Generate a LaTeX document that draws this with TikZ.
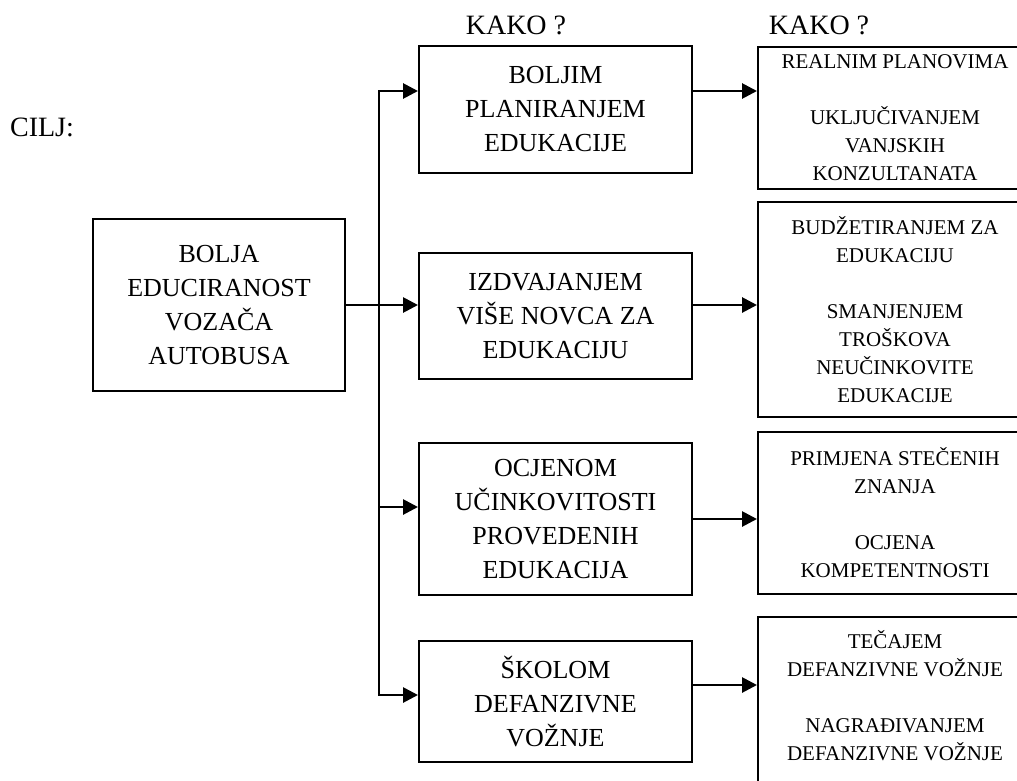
\documentclass[tikz,border=0pt]{standalone}
\usepackage{fontspec}
\setmainfont{Liberation Serif}
\usepackage{tikz}
\usetikzlibrary{positioning,arrows.meta}

\begin{document}
\begin{tikzpicture}[x=1pt, y=-1pt,
  box/.style={draw=black, line width=2pt, minimum width=273pt, align=center,
    inner sep=0pt, font=\fontsize{26}{34}\selectfont},
  subbox/.style={box, minimum width=274pt, anchor=north west,
    font=\fontsize{21}{28}\selectfont},
  lbl/.style={font=\fontsize{28}{32}\selectfont},
  arr/.style={-{Triangle[length=15pt,width=15pt]}, line width=2.8pt}
]
  \useasboundingbox (0,0) rectangle (1017,780);
  \clip (0,0) rectangle (1017,780);

  \node[lbl] (cilj) at (42,127) {CILJ:};
  \node[lbl] (kako1) at (516,25) {KAKO ?};
  \node[lbl] (kako2) at (819,25) {KAKO ?};

  \node[box, minimum width=252pt, minimum height=172pt] (goal) at (219,305)
    {BOLJA\\EDUCIRANOST\\VOZAČA\\AUTOBUSA};

  \node[box, minimum height=127pt] (plan) at (555.5,109.5)
    {BOLJIM\\PLANIRANJEM\\EDUKACIJE};
  \node[box, minimum height=126pt] (novac) at (555.5,316)
    {IZDVAJANJEM\\VIŠE NOVCA ZA\\EDUKACIJU};
  \node[box, minimum height=152pt] (ocjena) at (555.5,519)
    {OCJENOM\\UČINKOVITOSTI\\PROVEDENIH\\EDUKACIJA};
  \node[box, minimum height=121pt] (skola) at (555.5,701.5)
    {ŠKOLOM\\DEFANZIVNE\\VOŽNJE};

  \node[subbox, minimum height=142pt] (realni) at (757,46)
    {REALNIM PLANOVIMA\\[28pt]UKLJUČIVANJEM\\VANJSKIH\\KONZULTANATA};
  \node[subbox, minimum height=215pt] (budzet) at (757,201)
    {BUDŽETIRANJEM ZA\\EDUKACIJU\\[28pt]SMANJENJEM\\TROŠKOVA\\NEUČINKOVITE\\EDUKACIJE};
  \node[subbox, minimum height=162pt] (primjena) at (757,431)
    {PRIMJENA STEČENIH\\ZNANJA\\[28pt]OCJENA\\KOMPETENTNOSTI};
  \node[subbox, minimum height=200pt] (tecaj) at (757,616)
    {TEČAJEM\\DEFANZIVNE VOŽNJE\\[28pt]NAGRAĐIVANJEM\\DEFANZIVNE VOŽNJE\\[16pt]};

  \coordinate (spine) at (379,305);
  \draw[arr] (goal.east) -- (goal.east -| novac.west);
  \draw[arr] (spine) |- ([yshift=18.5pt]plan.west);
  \draw[arr] (spine) |- ([yshift=12pt]ocjena.west);
  \draw[arr] (spine) |- ([yshift=6.5pt]skola.west);

  \draw[arr] ([yshift=18.5pt]plan.east) -- ([yshift=18.5pt]plan.east -| realni.west);
  \draw[arr] ([yshift=11pt]novac.east) -- ([yshift=11pt]novac.east -| budzet.west);
  \draw[arr] (ocjena.east) -- (ocjena.east -| primjena.west);
  \draw[arr] ([yshift=16.5pt]skola.east) -- ([yshift=16.5pt]skola.east -| tecaj.west);
\end{tikzpicture}
\end{document}
